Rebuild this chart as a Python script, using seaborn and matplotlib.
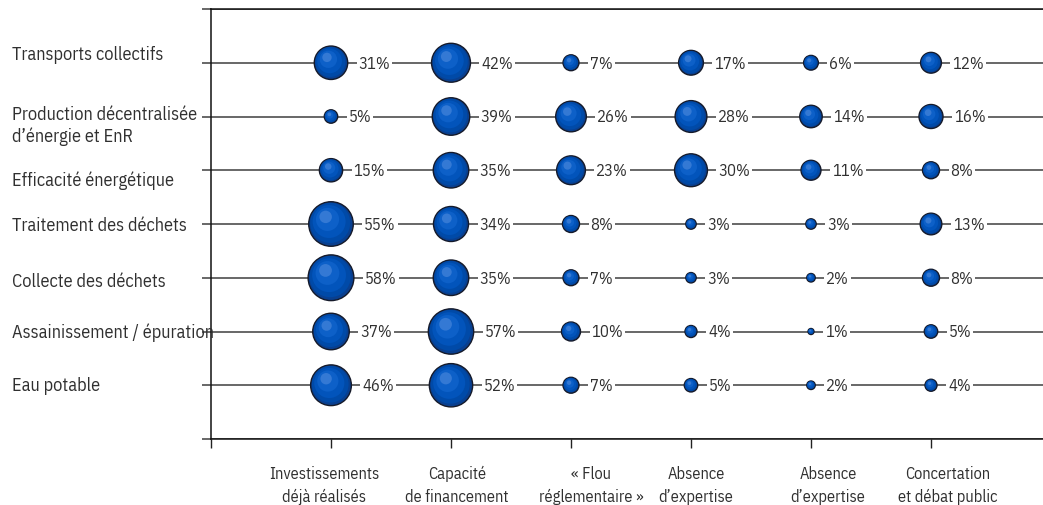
import numpy as np
import pandas as pd
import matplotlib.pyplot as plt
import seaborn as sns
from matplotlib import font_manager as fm
from matplotlib.textpath import TextPath
from matplotlib.transforms import blended_transform_factory

# données (en % des répondants)
secteurs = ['Transports collectifs', "Production décentralisée\nd’énergie et EnR",
            'Efficacité énergétique', 'Traitement des déchets', 'Collecte des déchets',
            'Assainissement / épuration', 'Eau potable']
criteres = ['Investissements\ndéjà réalisés', 'Capacité\nde financement',
            '« Flou\nréglementaire »', 'Absence\nd’expertise', 'Absence\nd’expertise',
            'Concertation\net débat public']
investissements = [31, 5, 15, 55, 58, 37, 46]
financement = [42, 39, 35, 34, 35, 57, 52]
flou = [7, 26, 23, 8, 7, 10, 7]
expertise_1 = [17, 28, 30, 3, 3, 4, 5]
expertise_2 = [6, 14, 11, 3, 2, 1, 2]
concertation = [12, 16, 8, 13, 8, 5, 4]

series = [investissements, financement, flou, expertise_1, expertise_2, concertation]
rows = []
for j, vals in enumerate(series):
    for i, v in enumerate(vals):
        rows.append({'x': j + 1, 'y': i + 1, 'val': v})
df = pd.DataFrame(rows)

# choix d'une police aux proportions proches de l'original (largeur / hauteur des capitales)
installees = {f.name for f in fm.fontManager.ttflist}
candidates = ['Liberation Sans Narrow', 'Arial Narrow', 'Roboto Condensed', 'PT Sans Narrow',
              'Archivo Narrow', 'Fira Sans Condensed', 'Encode Sans Condensed',
              'Open Sans Condensed', 'Asap Condensed', 'Barlow Semi Condensed',
              'IBM Plex Sans Condensed', 'Sofia Sans Condensed', 'Pragati Narrow',
              'Liberation Sans']


def proportion(fam):
    fp = fm.FontProperties(family=fam)
    w = TextPath((0, 0), 'Traitement des déchets', size=100, prop=fp).get_extents().width
    h = TextPath((0, 0), 'H', size=100, prop=fp).get_extents().height
    return w / h


dispo = [c for c in candidates if c in installees]
police = min(dispo, key=lambda c: abs(proportion(c) - 13.4))

sns.set_style('white')
plt.rcParams['font.family'] = [police, 'DejaVu Sans']

W, H = 1043, 506
fig = plt.figure(figsize=(W / 100, H / 100), dpi=100)
ax = fig.add_axes([211 / W, 1 - 440 / H, 1 - 211 / W, 430 / H])
ax.set_xlim(0, 832 / 120)
ax.set_ylim(8, 0)


def taille_pour(texte, largeur_px, hauteur_cap_px, ref='H'):
    # moyenne géométrique entre la taille qui donne la bonne largeur et celle qui donne
    # la bonne hauteur de capitale
    fp = fm.FontProperties(family=police)
    w = TextPath((0, 0), texte, size=100, prop=fp).get_extents().width
    h = TextPath((0, 0), ref, size=100, prop=fp).get_extents().height
    t_w = 100 * largeur_px * 0.72 / w
    t_h = 100 * hauteur_cap_px * 0.72 / h
    return np.sqrt(t_w * t_h)


fs_lignes = taille_pour('Traitement des déchets', 170, 13)
fs_axe = taille_pour('Investissements', 106, 11.7)
fs_pct = taille_pour('17%', 28, 12.3, ref='17')

px_x = 120        # pixels par unité en x
px_y = 430 / 8    # pixels par unité en y
K = 18.7          # aire (pt^2) par point de %

# bulles avec un léger effet de volume
couches = [(1.00, 0.00, '#093f8f'), (0.90, 0.06, '#004aa8'), (0.74, 0.14, '#0254bb'),
           (0.52, 0.26, '#0d60c8'), (0.28, 0.40, '#3479d4')]
r_px = 3.0 * np.sqrt(df['val'])
for k, (frac, shift, col) in enumerate(couches):
    d = df.copy()
    d['x'] = d['x'] - shift * 0.6 * r_px / px_x
    d['y'] = d['y'] - shift * 0.8 * r_px / px_y
    d['s'] = d['val'] * frac ** 2
    sns.scatterplot(data=d, x='x', y='y', size='s', sizes=(0, K * 100),
                    size_norm=(0, 100), color=col, legend=False, ax=ax, zorder=3 + k * 0.1,
                    edgecolor='#151a2a' if k == 0 else 'none', linewidth=1.0 if k == 0 else 0)

for _, r in df.iterrows():
    off = (3.0 * np.sqrt(r['val']) + 11) * 0.72
    ax.annotate(f"{int(r['val'])}%", xy=(r['x'], r['y']), xytext=(off, 0),
                textcoords='offset points', ha='left', va='center', fontsize=fs_pct,
                color='#303030', zorder=5,
                bbox=dict(boxstyle='square,pad=0.12', fc='white', ec='none'))

# axes, lignes
ax.set_yticks(range(0, 9))
ax.set_yticklabels([])
ax.set_xticks(range(0, 7))
ax.set_xticklabels([])
ax.tick_params(axis='y', direction='out', length=6.5, width=1.1, color='#3f3f3f', left=True)
ax.tick_params(axis='x', direction='out', length=6.5, width=1, color='#222222', bottom=True)
ax.grid(axis='y', color='#3f3f3f', linewidth=1.1, zorder=1)
ax.grid(axis='x', visible=False)
ax.set_axisbelow(True)
for s in ['left', 'bottom', 'top']:
    ax.spines[s].set_visible(True)
    ax.spines[s].set_color('#111111')
    ax.spines[s].set_linewidth(1.1)
ax.spines['right'].set_visible(False)
ax.set_xlabel('')
ax.set_ylabel('')

# libellés des catégories (décalages en pixels, comme dans l'original)
dx_axe = [-7, 6, 20, 5, 17, 17]
for j, lab in enumerate(criteres):
    for k, ligne in enumerate(lab.split('\n')):
        ax.annotate(ligne, xy=(j + 1, 0), xycoords=ax.get_xaxis_transform(),
                    xytext=(dx_axe[j] * 0.72, -(39 + 23 * k) * 0.72),
                    textcoords='offset points', ha='center', va='baseline',
                    fontsize=fs_axe, color='#303030', annotation_clip=False)

dy_lignes = [-4, 2, 15, 6, 8, 6, 5]
tr = blended_transform_factory(fig.transFigure, ax.transData)
for i, lab in enumerate(secteurs):
    for k, ligne in enumerate(lab.split('\n')):
        ax.annotate(ligne, xy=(12 / W, i + 1), xycoords=tr,
                    xytext=(0, -(dy_lignes[i] + 22 * k) * 0.72),
                    textcoords='offset points', ha='left', va='baseline',
                    fontsize=fs_lignes, color='#303030', annotation_clip=False)

fig.savefig('out.png', dpi=100)
